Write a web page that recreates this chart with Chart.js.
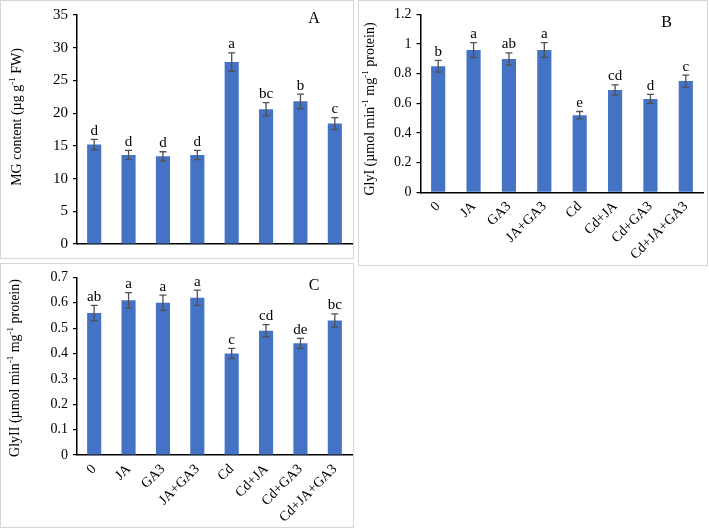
<!DOCTYPE html>
<html>
<head>
<meta charset="utf-8">
<script src="https://cdn.jsdelivr.net/npm/chart.js@4.4.1/dist/chart.umd.min.js"></script>
<style>
  html, body { margin: 0; padding: 0; background: #fff; }
  body { width: 709px; height: 528px; position: relative; overflow: hidden; }
  .panel { position: absolute; box-sizing: border-box; border: 1px solid #d6d6d6; background: #fff; }
  .panel canvas { display: block; }
</style>
</head>
<body>
<div class="panel" id="pA" style="left:0px;top:0px;width:354px;height:259px;"><canvas id="cA"></canvas></div>
<div class="panel" id="pB" style="left:358px;top:0px;width:350px;height:266px;"><canvas id="cB"></canvas></div>
<div class="panel" id="pC" style="left:0px;top:263px;width:354px;height:265px;"><canvas id="cC"></canvas></div>
<script>
// ---- data ----
const categories = ['0', 'JA', 'GA3', 'JA+GA3', 'Cd', 'Cd+JA', 'Cd+GA3', 'Cd+JA+GA3'];

const mgValues   = [15.2, 13.6, 13.4, 13.6, 27.8, 20.6, 21.8, 18.4];
const mgErrors   = [0.8, 0.7, 0.7, 0.7, 1.4, 1.0, 1.1, 0.9];
const mgLetters  = ['d', 'd', 'd', 'd', 'a', 'bc', 'b', 'c'];

const glyIValues  = [0.85, 0.96, 0.90, 0.96, 0.52, 0.69, 0.63, 0.75];
const glyIErrors  = [0.04, 0.05, 0.04, 0.05, 0.025, 0.035, 0.03, 0.04];
const glyILetters = ['b', 'a', 'ab', 'a', 'e', 'cd', 'd', 'c'];

const glyIIValues  = [0.56, 0.61, 0.60, 0.62, 0.40, 0.49, 0.44, 0.53];
const glyIIErrors  = [0.03, 0.03, 0.03, 0.03, 0.02, 0.024, 0.02, 0.026];
const glyIILetters = ['ab', 'a', 'a', 'a', 'c', 'cd', 'de', 'bc'];

const titleA = [['MG content (µg g', false], ['-1', true], [' FW)', false]];
const titleB = [['GlyI (µmol min', false], ['-1', true], [' mg', false], ['-1', true], [' protein)', false]];
const titleC = [['GlyII (µmol min', false], ['-1', true], [' mg', false], ['-1', true], [' protein)', false]];

const FONT = '"Liberation Serif", "Times New Roman", serif';
const BAR = '#4472C4';

// plugin: error bars, significance letters, panel letter, rotated y title with superscripts
const extras = {
  id: 'extras',
  afterDatasetsDraw(chart) {
    const o = chart.options.plugins.extras;
    const ctx = chart.ctx;
    const meta = chart.getDatasetMeta(0);
    const ys = chart.scales.y;
    ctx.save();
    ctx.strokeStyle = '#505050';
    ctx.lineWidth = 1.3;
    meta.data.forEach((bar, i) => {
      const v = o.values[i], e = o.errors[i];
      const yt = ys.getPixelForValue(v + e), yb = ys.getPixelForValue(v - e);
      const x = bar.x;
      ctx.beginPath();
      ctx.moveTo(x, yt); ctx.lineTo(x, yb);
      ctx.moveTo(x - 3.5, yt); ctx.lineTo(x + 3.5, yt);
      ctx.moveTo(x - 3.5, yb); ctx.lineTo(x + 3.5, yb);
      ctx.stroke();
      ctx.fillStyle = '#000';
      ctx.font = '15px ' + FONT;
      ctx.textAlign = 'center';
      ctx.textBaseline = 'bottom';
      ctx.fillText(o.letters[i], x, yt - 1);
    });
    // panel letter
    ctx.font = '16px ' + FONT;
    ctx.textAlign = 'center';
    ctx.textBaseline = 'middle';
    ctx.fillStyle = '#000';
    ctx.fillText(o.panel, chart.chartArea.right - o.panelDx, chart.chartArea.top + o.panelDy);
    // y title
    ctx.translate(o.titleX, o.titleY);
    ctx.rotate(-Math.PI / 2);
    let total = 0;
    const parts = o.title.map(([t, sup]) => {
      ctx.font = (sup ? '9px ' : '14px ') + FONT;
      const w = ctx.measureText(t).width;
      total += w;
      return [t, sup, w];
    });
    let x = -total / 2;
    ctx.textAlign = 'left';
    ctx.textBaseline = 'middle';
    parts.forEach(([t, sup, w]) => {
      ctx.font = (sup ? '9px ' : '14px ') + FONT;
      ctx.fillText(t, x, sup ? -4 : 0);
      x += w;
    });
    ctx.restore();
  }
};

function makeChart(id, w, h, cfg) {
  const canvas = document.getElementById(id);
  canvas.style.width = w + 'px';
  canvas.style.height = h + 'px';
  canvas.width = w; canvas.height = h;
  return new Chart(canvas, {
    type: 'bar',
    data: {
      labels: categories,
      datasets: [{
        data: cfg.values,
        backgroundColor: BAR,
        borderWidth: 0,
        barPercentage: cfg.barPct,
        categoryPercentage: 1.0
      }]
    },
    options: {
      responsive: false,
      animation: false,
      devicePixelRatio: 1,
      layout: { padding: { top: cfg.padTop, right: cfg.padRight, left: 0, bottom: 0 } },
      plugins: {
        legend: { display: false },
        tooltip: { enabled: false },
        extras: {
          values: cfg.values, errors: cfg.errors, letters: cfg.letters,
          panel: cfg.panel, panelDx: cfg.panelDx, panelDy: cfg.panelDy,
          title: cfg.title, titleX: cfg.titleX, titleY: cfg.titleY
        }
      },
      scales: {
        x: {
          afterFit(scale) { scale.height = cfg.xHeight; },
          grid: { display: false, drawTicks: false },
          border: { display: true, color: '#000', width: 1.5 },
          ticks: {
            display: cfg.showX,
            autoSkip: false,
            maxRotation: 45, minRotation: 45,
            padding: 6,
            color: '#000',
            font: { family: FONT, size: 14 }
          }
        },
        y: {
          min: 0, max: cfg.max,
          afterFit(scale) { scale.width = cfg.yWidth; },
          grid: { display: true, drawOnChartArea: false, drawTicks: true, tickLength: 4, color: '#000', lineWidth: 1.2 },
          border: { display: true, color: '#000', width: 1.5 },
          ticks: {
            stepSize: cfg.step,
            padding: 5,
            color: '#000',
            font: { family: FONT, size: cfg.tickSize },
            callback: v => String(Math.round(v * 10) / 10)
          }
        }
      }
    },
    plugins: [extras]
  });
}

makeChart('cA', 352, 257, {
  values: mgValues, errors: mgErrors, letters: mgLetters, max: 35, step: 5, tickSize: 15,
  barPct: 0.41, padTop: 11.7, padRight: 1, yWidth: 76, xHeight: 8, showX: false,
  panel: 'A', panelDx: 38, panelDy: 3.5, title: titleA, titleX: 16, titleY: 116
});
makeChart('cB', 348, 264, {
  values: glyIValues, errors: glyIErrors, letters: glyILetters, max: 1.2, step: 0.2, tickSize: 14,
  barPct: 0.40, padTop: 6.3, padRight: 3.5, yWidth: 61.5, xHeight: 72.7, showX: true,
  panel: 'B', panelDx: 37, panelDy: 8, title: titleB, titleX: 11, titleY: 108
});
makeChart('cC', 352, 263, {
  values: glyIIValues, errors: glyIIErrors, letters: glyIILetters, max: 0.7, step: 0.1, tickSize: 14,
  barPct: 0.41, padTop: 7.7, padRight: 1, yWidth: 76, xHeight: 72, showX: true,
  panel: 'C', panelDx: 38, panelDy: 8.5, title: titleC, titleX: 14, titleY: 104
});
</script>
</body>
</html>
